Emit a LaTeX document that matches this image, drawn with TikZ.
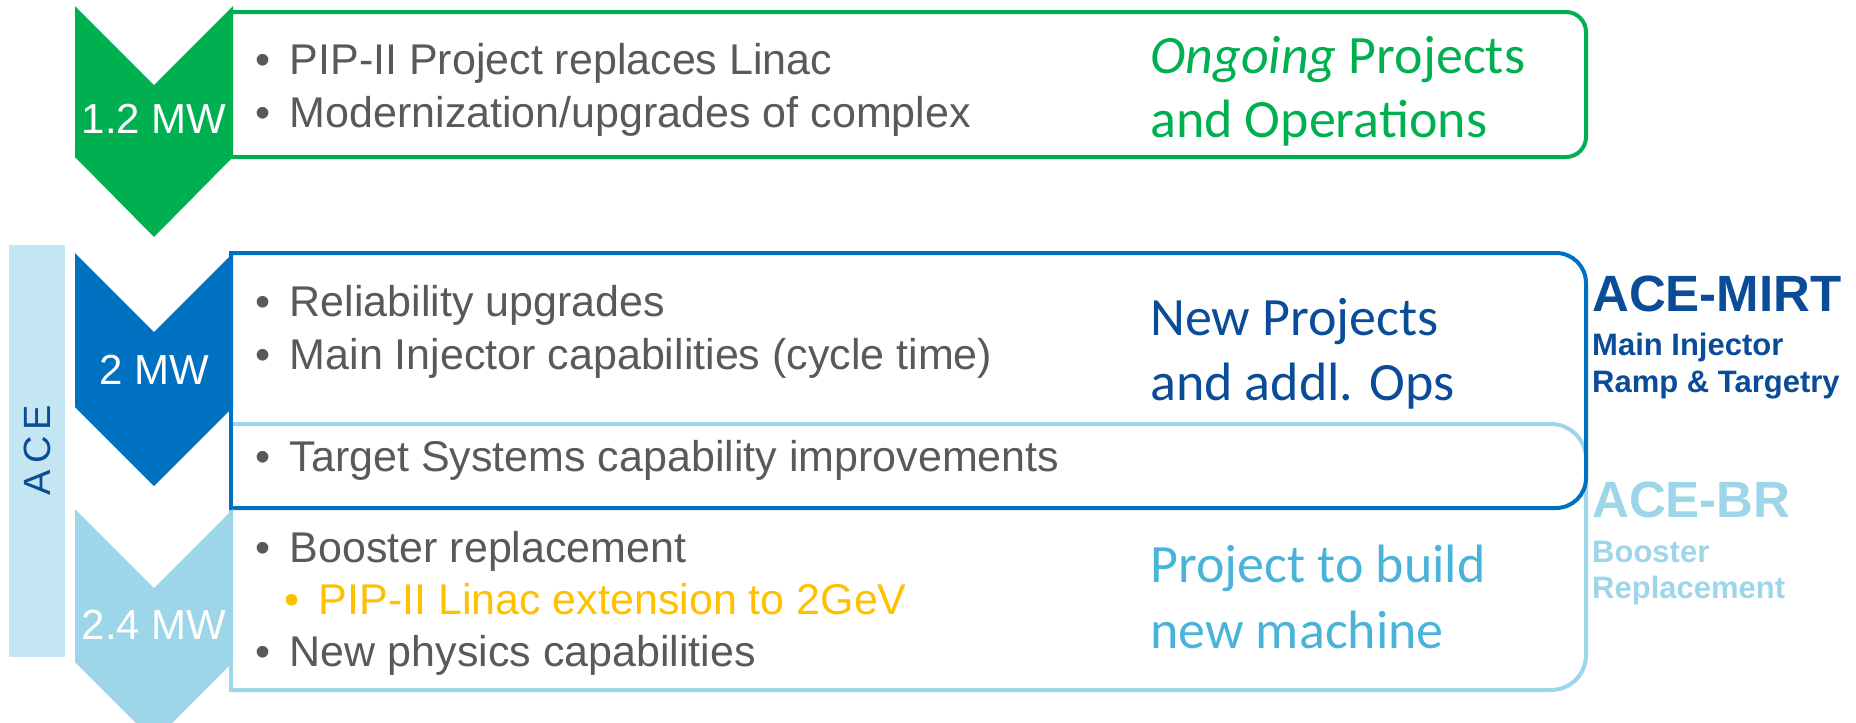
\documentclass[tikz,border=0pt]{standalone}
\usepackage{fontspec}
\setmainfont{Liberation Sans}
\newfontfamily\calfont{Carlito}
\definecolor{fmgreen}{HTML}{00B050}
\definecolor{fmblue}{HTML}{0070C0}
\definecolor{fmlight}{HTML}{9DD5E9}
\definecolor{fmpale}{HTML}{C4E6F2}
\definecolor{fmdark}{HTML}{0B4C99}
\definecolor{fmmid}{HTML}{4AB3D9}
\definecolor{fmgray}{HTML}{595959}
\definecolor{fmgold}{HTML}{FFC000}
\begin{document}
\begin{tikzpicture}[x=1pt,y=-1pt]
	\tikzstyle{boxline}=[line width=4pt,line cap=rect]
	\tikzstyle{powerlbl}=[text=white,anchor=base,inner sep=0pt,font=\fontsize{42}{42}\selectfont]
	\tikzstyle{itemtxt}=[text=fmgray,anchor=base west,inner sep=0pt,font=\fontsize{43}{43}\selectfont]
	\tikzstyle{phasetxt}=[anchor=base west,inner sep=0pt,font=\calfont\fontsize{54}{54}\selectfont]
	\tikzstyle{tagtxt}=[anchor=base west,inner sep=0pt,font=\bfseries\fontsize{51}{51}\selectfont]
	\tikzstyle{subtxt}=[anchor=base west,inner sep=0pt,font=\bfseries\fontsize{31}{31}\selectfont]
	\useasboundingbox (0,0) rectangle (1856,723);
	\clip (0,0) rectangle (1856,723);
	\begin{scope}
		% ACE band
		\fill[fmpale] (9,245) rectangle (65,657);
		\node[rotate=90,text=fmdark,inner sep=0pt,font=\fontsize{38}{38}\selectfont] (ace) at (37,450) {A\hspace{6pt}C\hspace{6pt}E};
		% frames
		\draw[boxline,draw=fmlight,rounded corners=35pt] (231,424) -- (1586,424) -- (1586,690) -- (231,690);
		\draw[boxline,draw=fmlight] (231,424) -- (231,690);
		\draw[boxline,draw=fmblue,rounded corners=30pt] (231,253) -- (1586,253) -- (1586,508) -- (231,508);
		\draw[boxline,draw=fmblue] (231,253) -- (231,508);
		\draw[boxline,draw=fmgreen,rounded corners=20pt] (231,12) -- (1586,12) -- (1586,157) -- (231,157);
		\draw[boxline,draw=fmgreen] (231,12) -- (231,157);
		% chevrons
		\fill[fmgreen] (75,6) -- (154,85) -- (233,6) -- (233,157) -- (154,237) -- (75,157) -- cycle;
		\fill[fmblue] (75,253) -- (154,332) -- (233,253) -- (233,407) -- (154,486) -- (75,407) -- cycle;
		\fill[fmlight] (75,509) -- (154,588) -- (233,509) -- (233,662) -- (154,741) -- (75,662) -- cycle;
		\node[powerlbl] (p1) at (154,133) {1.2 MW};
		\node[powerlbl] (p2) at (154,384) {2 MW};
		\node[powerlbl] (p3) at (154,639) {2.4 MW};
		% items
		\node[itemtxt] (g1) at (255,74) {•\hspace{19.5pt}PIP-II Project replaces Linac};
		\node[itemtxt] (g2) at (255,127) {•\hspace{19.5pt}Modernization/upgrades of complex};
		\node[itemtxt] (b1) at (255,316) {•\hspace{19.5pt}Reliability upgrades};
		\node[itemtxt] (b2) at (255,369) {•\hspace{19.5pt}Main Injector capabilities (cycle time)};
		\node[itemtxt] (t1) at (255,471) {•\hspace{19.5pt}Target Systems capability improvements};
		\node[itemtxt] (l1) at (255,562) {•\hspace{19.5pt}Booster replacement};
		\node[itemtxt,text=fmgold] (l2) at (284,614) {•\hspace{19.5pt}PIP-II Linac extension to 2GeV};
		\node[itemtxt] (l3) at (255,666) {•\hspace{19.5pt}New physics capabilities};
		% phases
		\node[phasetxt,text=fmgreen] (ph1) at (1150,73) {{\itshape Ongoing} Projects};
		\node[phasetxt,text=fmgreen] (ph2) at (1150,137) {and Operations};
		\node[phasetxt,text=fmdark] (ph3) at (1150,335) {New Projects};
		\node[phasetxt,text=fmdark] (ph4) at (1150,400) {and addl. Ops};
		\node[phasetxt,text=fmmid] (ph5) at (1150,582) {Project to build};
		\node[phasetxt,text=fmmid] (ph6) at (1150,648) {new machine};
		% tags
		\node[tagtxt,text=fmdark] (mirt) at (1592,311) {ACE-MIRT};
		\node[subtxt,text=fmdark] (mirt1) at (1592,355) {Main Injector};
		\node[subtxt,text=fmdark] (mirt2) at (1592,392) {Ramp \& Targetry};
		\node[tagtxt,text=fmlight] (br) at (1592,517) {ACE-BR};
		\node[subtxt,text=fmlight] (br1) at (1592,562) {Booster};
		\node[subtxt,text=fmlight] (br2) at (1592,598) {Replacement};
	\end{scope}
\end{tikzpicture}
\end{document}
